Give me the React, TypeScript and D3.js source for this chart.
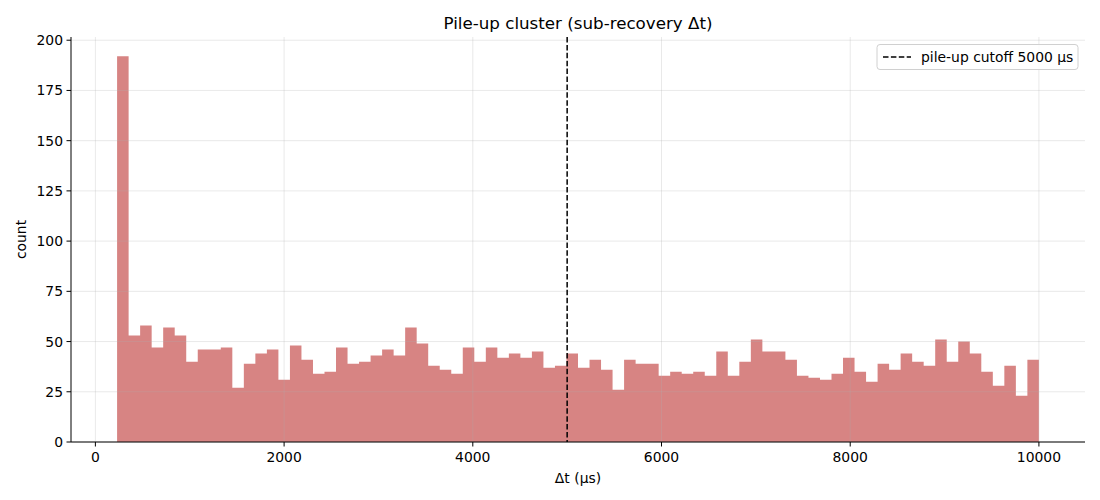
import React from "react";
import * as d3 from "d3";

const binStart = 230;
const binEnd = 10000;
const counts: number[] = [
  192, 53, 58, 47, 57, 53, 40, 46, 46, 47,
  27, 39, 44, 46, 31, 48, 41, 34, 35, 47,
  39, 40, 43, 46, 43, 57, 49, 38, 36, 34,
  47, 40, 47, 42, 44, 42, 45, 37, 38, 44,
  37, 41, 36, 26, 41, 39, 39, 33, 35, 34,
  35, 33, 45, 33, 40, 51, 45, 45, 41, 33,
  32, 31, 34, 42, 35, 30, 39, 36, 44, 40,
  38, 51, 40, 50, 44, 35, 28, 38, 23, 41,
];
const xTicks = [0, 2000, 4000, 6000, 8000, 10000];
const yTicks = [0, 25, 50, 75, 100, 125, 150, 175, 200];
const cutoff = 5000;
const title = "Pile-up cluster (sub-recovery Δt)";
const xLabel = "Δt (µs)";
const yLabel = "count";
const legendLabel = "pile-up cutoff 5000 µs";

export default function App() {
  const W = 1100, H = 500;
  const left = 71, right = 1085, top = 37, bottom = 442;
  const nb = counts.length;
  const bw = (binEnd - binStart) / nb;
  const span = binEnd - binStart;
  const x = d3.scaleLinear().domain([binStart - 0.05 * span, binEnd + 0.05 * span]).range([left, right]);
  const ymax = d3.max(counts)! * 1.05;
  const y = d3.scaleLinear().domain([0, ymax]).range([bottom, top]);
  const font = "DejaVu Sans, sans-serif";
  const fs = 13.9;

  const pts: [number, number][] = counts.map((c, i) => [binStart + i * bw, c]);
  pts.push([binEnd, counts[nb - 1]]);
  const area = d3
    .area<[number, number]>()
    .x((d) => x(d[0]))
    .y0(y(0))
    .y1((d) => y(d[1]))
    .curve(d3.curveStepAfter);

  return (
    <svg width={W} height={H} style={{ position: "absolute", left: 0, top: 0 }} fontFamily={font}>
      <rect width={W} height={H} fill="#fff" />
      <path d={area(pts) || ""} fill="#d78483" />
      {xTicks.map((t) => (
        <line key={"gx" + t} x1={x(t)} x2={x(t)} y1={top} y2={bottom} stroke="#b0b0b0" strokeOpacity={0.35} strokeWidth={0.8} />
      ))}
      {yTicks.map((t) => (
        <line key={"gy" + t} x1={left} x2={right} y1={y(t)} y2={y(t)} stroke="#b0b0b0" strokeOpacity={0.35} strokeWidth={0.8} />
      ))}
      <line x1={x(cutoff)} x2={x(cutoff)} y1={top} y2={bottom} stroke="#000" strokeWidth={1.5} strokeDasharray="5.5,2.4" />
      <line x1={left} x2={left} y1={top} y2={bottom} stroke="#000" strokeWidth={1} />
      <line x1={left} x2={right} y1={bottom} y2={bottom} stroke="#000" strokeWidth={1} />
      {xTicks.map((t) => (
        <g key={"tx" + t}>
          <line x1={x(t)} x2={x(t)} y1={bottom} y2={bottom + 4.5} stroke="#000" strokeWidth={1} />
          <text x={x(t)} y={bottom + 19.5} textAnchor="middle" fontSize={fs} fill="#000">{t}</text>
        </g>
      ))}
      {yTicks.map((t) => (
        <g key={"ty" + t}>
          <line x1={left - 4.5} x2={left} y1={y(t)} y2={y(t)} stroke="#000" strokeWidth={1} />
          <text x={left - 8} y={y(t) + 5} textAnchor="end" fontSize={fs} fill="#000">{t}</text>
        </g>
      ))}
      <text x={(left + right) / 2} y={29} textAnchor="middle" fontSize={16.7} fill="#000">{title}</text>
      <text x={(left + right) / 2} y={483} textAnchor="middle" fontSize={fs} fill="#000">{xLabel}</text>
      <text transform={`translate(26,${(top + bottom) / 2}) rotate(-90)`} textAnchor="middle" fontSize={fs} fill="#000">{yLabel}</text>
      <g>
        <rect x={877} y={44.5} width={201} height={25} rx={3} fill="#fff" fillOpacity={0.8} stroke="#d0d0d0" strokeWidth={1} />
        <line x1={883} x2={911} y1={57} y2={57} stroke="#000" strokeWidth={1.5} strokeDasharray="5.5,2.4" />
        <text x={921} y={62} fontSize={fs} fill="#000">{legendLabel}</text>
      </g>
    </svg>
  );
}
